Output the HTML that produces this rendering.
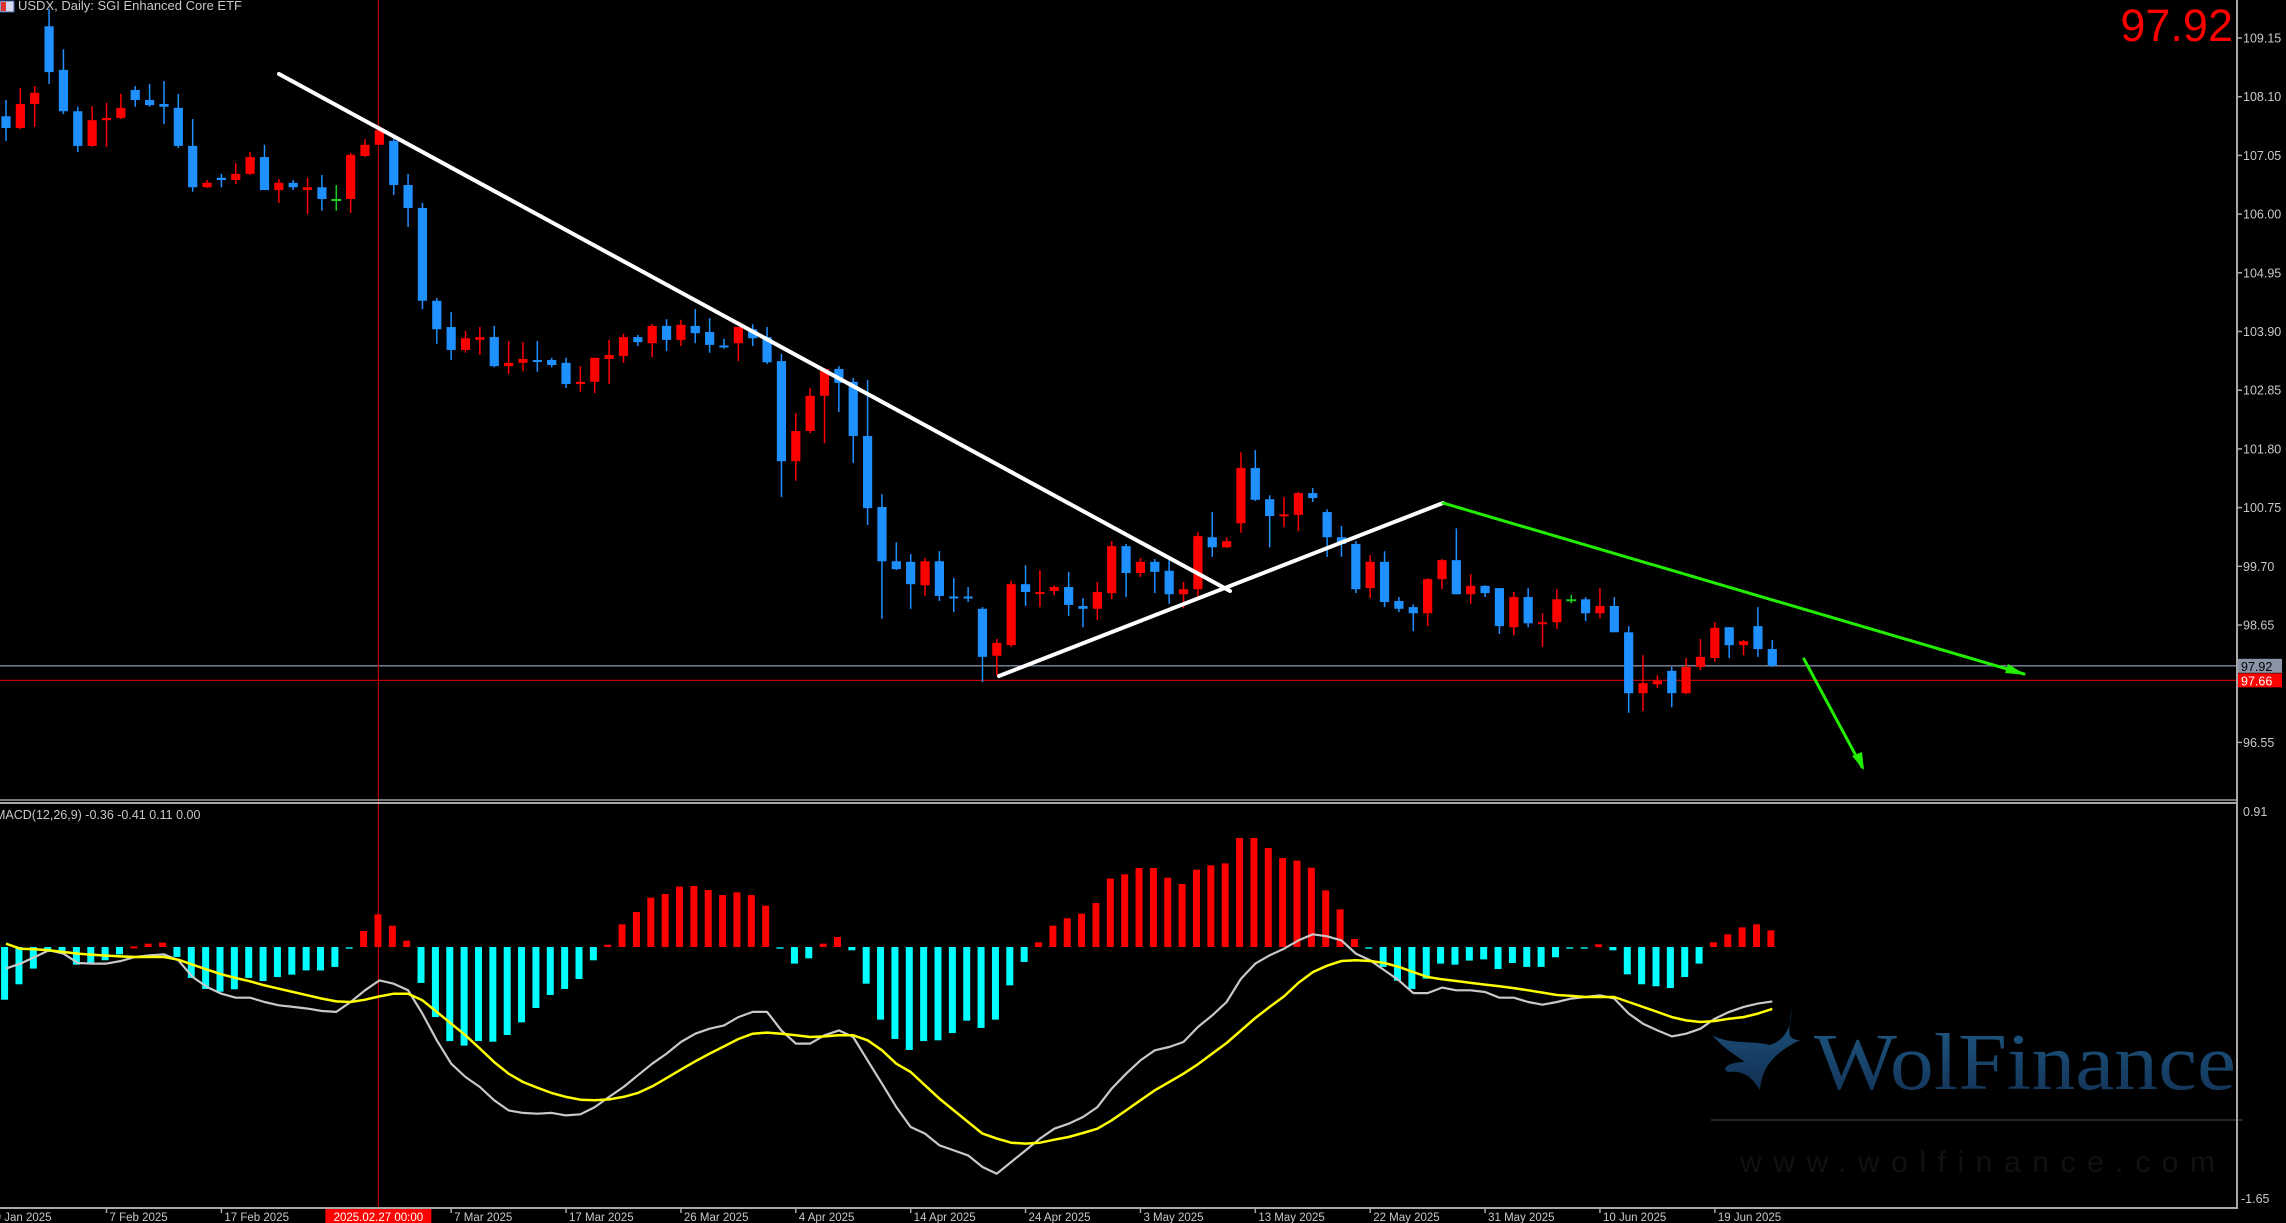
<!DOCTYPE html>
<html><head><meta charset="utf-8"><style>
html,body{margin:0;padding:0;background:#000;overflow:hidden}
svg{display:block}
text{font-family:"Liberation Sans",sans-serif}
</style></head><body>
<svg id="chart" width="2286" height="1223" viewBox="0 0 2286 1223" xmlns="http://www.w3.org/2000/svg">
<rect x="0" y="0" width="2286" height="1223" fill="#000"/>
<g id="watermark">
  <defs><linearGradient id="wg" x1="0" y1="0" x2="0" y2="1"><stop offset="0" stop-color="#1e5a84"/><stop offset="1" stop-color="#122e52"/></linearGradient></defs>
  <path d="M1790,1000 C1795,1025 1785,1040 1770,1045 C1750,1040 1730,1045 1712,1035 C1725,1050 1740,1058 1745,1062 C1730,1062 1720,1068 1728,1072 C1745,1070 1752,1078 1760,1090 C1762,1070 1770,1055 1800,1040 C1780,1040 1795,1020 1790,1000 Z" fill="url(#wg)"/>
  <text x="1814" y="1089" style="font-family:'Liberation Serif',serif" font-size="80" fill="url(#wg)" textLength="422" lengthAdjust="spacingAndGlyphs">WolFinance</text>
  <line x1="1711" y1="1120" x2="2243" y2="1120" stroke="#333" stroke-width="1.5"/>
  <text x="1740" y="1172" font-size="30" fill="#111" textLength="475" lengthAdjust="spacing">www.wolfinance.com</text>
</g>
<g id="grid"></g>
<g id="main"></g>
<g id="macd"></g>
<g id="axes"></g>
</svg>
<script>
const opens=[107.75,107.54,107.97,109.36,108.58,107.84,107.22,107.68,107.72,108.22,108.04,107.97,107.90,107.22,106.48,106.65,106.61,106.72,107.02,106.43,106.56,106.43,106.48,106.27,106.27,107.04,107.24,107.31,106.52,106.11,104.45,103.98,103.57,103.75,103.80,103.28,103.34,103.39,103.39,103.34,102.96,103.00,103.41,103.46,103.80,103.69,104.00,103.75,104.00,103.89,103.65,103.69,103.94,103.80,103.37,101.58,102.12,102.75,103.23,103.00,102.03,100.76,99.79,99.78,99.36,99.79,99.16,99.16,98.94,98.10,98.29,99.38,99.23,99.26,99.33,98.99,98.94,99.22,100.06,99.58,99.78,99.62,99.20,99.29,100.22,100.04,100.47,101.46,100.90,100.62,100.62,101.01,100.67,100.22,100.10,99.31,99.78,99.08,98.97,98.86,99.47,99.81,99.20,99.35,99.31,98.61,99.15,98.69,98.70,99.11,99.11,98.86,98.99,98.52,97.43,97.59,97.83,97.43,97.90,98.06,98.61,98.29,98.63,98.22];
const highs=[108.04,108.26,108.29,109.67,108.95,107.92,107.93,107.99,108.15,108.29,108.33,108.38,108.15,107.70,106.61,106.72,106.91,107.11,107.24,106.63,106.61,106.65,106.70,106.52,107.09,107.34,107.58,107.36,106.72,106.20,104.50,104.25,103.91,103.98,104.00,103.73,103.71,103.73,103.43,103.43,103.28,103.43,103.75,103.86,103.84,104.03,104.12,104.11,104.30,104.14,103.77,103.98,104.03,103.98,103.50,102.44,102.89,103.25,103.28,103.07,103.03,100.99,100.13,99.92,99.85,99.97,99.49,99.33,98.97,98.40,99.44,99.72,99.63,99.36,99.60,99.13,99.42,100.15,100.10,99.85,99.83,99.88,99.42,100.31,100.67,100.22,101.74,101.78,100.97,100.94,101.03,101.10,100.72,100.42,100.15,99.90,99.97,99.15,99.02,99.49,99.83,100.38,99.56,99.36,99.31,99.24,99.31,98.86,99.29,99.19,99.15,99.31,99.15,98.63,98.11,97.75,97.90,98.06,98.40,98.70,98.61,98.38,98.97,98.38];
const lows=[107.31,107.52,107.56,108.33,107.79,107.11,107.20,107.20,107.70,107.92,107.92,107.61,107.18,106.40,106.47,106.48,106.54,106.70,106.43,106.20,106.43,106.00,106.06,106.06,106.02,107.02,107.24,106.34,105.77,104.30,103.68,103.39,103.52,103.48,103.26,103.14,103.19,103.18,103.26,102.89,102.82,102.80,102.96,103.34,103.64,103.44,103.55,103.64,103.69,103.52,103.59,103.37,103.64,103.32,100.94,101.23,102.08,101.90,102.46,101.55,100.44,98.76,99.63,98.94,99.17,99.08,98.88,99.06,97.63,97.75,98.26,98.99,98.97,99.19,98.81,98.61,98.74,99.11,99.15,99.51,99.22,99.03,98.95,99.15,99.87,100.03,100.30,100.87,100.04,100.40,100.33,100.85,99.87,99.87,99.22,99.13,98.97,98.88,98.54,98.63,99.29,99.20,99.03,99.15,98.49,98.47,98.61,98.26,98.58,99.04,98.72,98.77,98.52,97.08,97.11,97.52,97.18,97.41,97.84,97.99,98.06,98.11,98.08,97.90];
const closes=[107.54,107.97,108.17,108.54,107.84,107.22,107.68,107.72,107.90,108.04,107.95,107.92,107.22,106.48,106.56,106.61,106.72,107.02,106.43,106.56,106.48,106.48,106.27,106.27,107.06,107.24,107.50,106.52,106.11,104.45,103.94,103.57,103.78,103.80,103.28,103.34,103.41,103.38,103.30,102.96,103.00,103.43,103.48,103.80,103.71,104.00,103.75,104.02,103.87,103.66,103.64,103.98,103.78,103.35,101.58,102.12,102.75,103.23,102.98,102.03,100.74,99.79,99.65,99.38,99.79,99.17,99.15,99.14,98.08,98.33,99.38,99.24,99.24,99.33,99.01,98.94,99.24,100.06,99.58,99.78,99.60,99.20,99.29,100.24,100.04,100.15,101.46,100.89,100.60,100.63,101.01,100.92,100.22,100.10,99.29,99.78,99.06,98.94,98.86,99.47,99.81,99.20,99.35,99.22,98.63,99.15,98.68,98.70,99.11,99.11,98.86,98.99,98.52,97.43,97.61,97.65,97.43,97.90,98.08,98.60,98.29,98.36,98.22,97.92];
const histValues=[-0.349,-0.247,-0.143,-0.033,-0.03,-0.117,-0.11,-0.088,-0.049,0.004,0.022,0.029,-0.066,-0.205,-0.278,-0.296,-0.28,-0.205,-0.225,-0.199,-0.183,-0.155,-0.155,-0.132,-0.007,0.106,0.216,0.141,0.042,-0.238,-0.464,-0.623,-0.653,-0.623,-0.627,-0.583,-0.499,-0.404,-0.318,-0.278,-0.212,-0.088,0.015,0.15,0.232,0.327,0.351,0.40,0.404,0.377,0.344,0.362,0.344,0.274,-0.013,-0.11,-0.075,0.022,0.066,-0.022,-0.243,-0.481,-0.609,-0.682,-0.623,-0.618,-0.57,-0.488,-0.536,-0.481,-0.254,-0.099,0.031,0.141,0.19,0.221,0.291,0.453,0.481,0.523,0.523,0.459,0.417,0.512,0.541,0.554,0.722,0.722,0.656,0.589,0.572,0.525,0.375,0.249,0.053,-0.007,-0.132,-0.223,-0.278,-0.21,-0.11,-0.117,-0.09,-0.082,-0.146,-0.106,-0.132,-0.132,-0.068,-0.013,-0.007,0.018,-0.022,-0.181,-0.247,-0.26,-0.272,-0.199,-0.11,0.031,0.084,0.13,0.15,0.11];
const macdValues=[-0.143,-0.11,-0.066,-0.022,-0.044,-0.106,-0.11,-0.11,-0.093,-0.066,-0.055,-0.049,-0.088,-0.199,-0.265,-0.309,-0.336,-0.336,-0.364,-0.386,-0.397,-0.408,-0.424,-0.43,-0.364,-0.287,-0.221,-0.243,-0.287,-0.441,-0.618,-0.773,-0.861,-0.927,-1.015,-1.082,-1.099,-1.104,-1.099,-1.115,-1.108,-1.06,-0.993,-0.927,-0.85,-0.773,-0.706,-0.629,-0.574,-0.541,-0.519,-0.464,-0.43,-0.43,-0.552,-0.64,-0.64,-0.585,-0.552,-0.596,-0.751,-0.905,-1.06,-1.192,-1.236,-1.313,-1.347,-1.38,-1.457,-1.501,-1.424,-1.347,-1.269,-1.203,-1.17,-1.126,-1.06,-0.938,-0.839,-0.751,-0.684,-0.662,-0.629,-0.53,-0.453,-0.364,-0.21,-0.11,-0.055,-0.011,0.044,0.084,0.071,0.044,-0.044,-0.088,-0.155,-0.221,-0.305,-0.305,-0.269,-0.287,-0.287,-0.298,-0.336,-0.336,-0.364,-0.382,-0.364,-0.342,-0.331,-0.32,-0.342,-0.441,-0.508,-0.552,-0.592,-0.574,-0.541,-0.475,-0.43,-0.397,-0.375,-0.36];
const signalValues=[0.022,-0.011,-0.015,-0.022,-0.033,-0.044,-0.051,-0.057,-0.062,-0.066,-0.066,-0.066,-0.084,-0.117,-0.15,-0.181,-0.205,-0.227,-0.254,-0.276,-0.298,-0.32,-0.342,-0.36,-0.364,-0.349,-0.327,-0.309,-0.309,-0.353,-0.43,-0.508,-0.585,-0.673,-0.762,-0.839,-0.894,-0.932,-0.967,-0.993,-1.011,-1.015,-1.009,-0.993,-0.967,-0.923,-0.868,-0.812,-0.757,-0.706,-0.658,-0.609,-0.574,-0.567,-0.574,-0.585,-0.596,-0.592,-0.585,-0.585,-0.618,-0.684,-0.773,-0.828,-0.916,-1.004,-1.082,-1.159,-1.236,-1.269,-1.296,-1.302,-1.296,-1.276,-1.258,-1.232,-1.203,-1.148,-1.082,-1.015,-0.949,-0.894,-0.839,-0.777,-0.706,-0.636,-0.552,-0.47,-0.397,-0.327,-0.238,-0.166,-0.124,-0.093,-0.088,-0.093,-0.106,-0.132,-0.166,-0.199,-0.214,-0.225,-0.238,-0.249,-0.26,-0.272,-0.287,-0.302,-0.318,-0.324,-0.331,-0.331,-0.331,-0.364,-0.397,-0.43,-0.464,-0.486,-0.497,-0.49,-0.475,-0.464,-0.441,-0.41];
const priceTicks=["109.15","108.10","107.05","106.00","104.95","103.90","102.85","101.80","100.75","99.70","98.65","96.55"];
const dateLabels=["9 Jan 2025","7 Feb 2025","17 Feb 2025","7 Mar 2025","17 Mar 2025","26 Mar 2025","4 Apr 2025","14 Apr 2025","24 Apr 2025","3 May 2025","13 May 2025","22 May 2025","31 May 2025","10 Jun 2025","19 Jun 2025"];
const dateBars=[-1,7,15,31,39,47,55,63,71,79,87,95,103,111,119];
const bidPrice=97.92, markPrice=97.66, crossBar=26;

const NS="http://www.w3.org/2000/svg";
const xOf=i=>6+i*14.36;
const yP=p=>38+(109.15-p)*55.905;
const yM=v=>947-v*151;
function mk(parent,tag,attrs,txt){const e=document.createElementNS(NS,tag);for(const k in attrs)e.setAttribute(k,attrs[k]);if(txt!==undefined)e.textContent=txt;document.getElementById(parent).appendChild(e);return e;}

let e;
e=mk('grid','line',{x1:0,x2:2237,y1:yP(bidPrice),y2:yP(bidPrice),stroke:'#7f8aa0','stroke-width':1.3});


e=mk('grid','line',{x1:0,x2:2237,y1:yP(markPrice),y2:yP(markPrice),stroke:'#c00000','stroke-width':1.3});


e=mk('grid','line',{x1:xOf(crossBar)-1,x2:xOf(crossBar)-1,y1:0,y2:1208,stroke:'#b00000','stroke-width':1.3});



for(let i=0;i<opens.length;i++){
  const o=opens[i],c=closes[i],h=highs[i],l=lows[i];
  const col=c>o?'#ff0000':(c<o?'#1e90ff':'#1ecc1e');
  const x=xOf(i);
  const g=mk('main','g',{});
  
  
  const w=document.createElementNS(NS,'line');
  w.setAttribute('x1',x);w.setAttribute('x2',x);w.setAttribute('y1',yP(h));w.setAttribute('y2',yP(l));w.setAttribute('stroke',col);w.setAttribute('stroke-width',1.5);
  
  
  g.appendChild(w);
  const top=Math.min(yP(o),yP(c)),bh=Math.max(Math.abs(yP(o)-yP(c)),2);
  const b=document.createElementNS(NS,'rect');
  if(c===o){b.setAttribute('x',x-5);b.setAttribute('width',10);}else{b.setAttribute('x',x-4.6);b.setAttribute('width',9.2);}
  b.setAttribute('y',top);b.setAttribute('height',bh);b.setAttribute('fill',col);
  
  
  g.appendChild(b);
}

function ln(x1,y1,x2,y2,col,w,name){const l=mk('main','line',{x1,y1,x2,y2,stroke:col,'stroke-width':w,'stroke-linecap':'round'});return l;}
ln(279,74,1230,591,'#ffffff',4,'descending-trendline');
ln(999,676,1443,503,'#ffffff',4,'ascending-trendline');
ln(1443,503,2024,674,'#22ee00',3,'green-projection-line');
ln(1804,659,1862,767,'#22ee00',3,'green-down-arrow');
e=mk('main','polygon',{points:'2026,675 2008,664 2005,673',fill:'#22ee00'});


e=mk('main','polygon',{points:'1864,770 1852,756 1862,752',fill:'#22ee00'});



e=mk('main','rect',{x:0,y:1,width:14,height:11,fill:'#d8d8f0',stroke:'#4060a0','stroke-width':1});


e=mk('main','rect',{x:1,y:2,width:5,height:9,fill:'#e03030'});


e=mk('main','text',{x:18,y:10,'font-size':13,fill:'#c8c8c8'},'USDX, Daily:  SGI Enhanced Core ETF');


e=mk('main','text',{x:2233,y:41,'font-size':45,fill:'#ff0000','text-anchor':'end'},'97.92');



e=mk('macd','line',{x1:0,x2:2237,y1:800,y2:800,stroke:'#a0a0a0','stroke-width':1.5});


e=mk('macd','line',{x1:0,x2:2237,y1:803,y2:803,stroke:'#e0e0e0','stroke-width':1.5});


e=mk('macd','text',{x:-5,y:819,'font-size':12.5,fill:'#c8c8c8'},'MACD(12,26,9) -0.36 -0.41 0.11 0.00');


for(let i=0;i<histValues.length;i++){
  const v=histValues[i],y0=yM(0),y1=yM(v);
  const col=v>0?'#ff0000':(v>-0.015?'#00b0b0':'#00ffff');
  const r=mk('macd','rect',{x:xOf(i)-4.9,y:Math.min(y0,y1),width:7,height:Math.max(Math.abs(y1-y0),2),fill:col});
  
  
}
const mPts=macdValues.map((v,i)=>xOf(i).toFixed(1)+','+yM(v).toFixed(1)).join(' ');
e=mk('macd','polyline',{points:mPts,fill:'none',stroke:'#c8c8c8','stroke-width':2.2,'stroke-linejoin':'round'});


const sPts=signalValues.map((v,i)=>xOf(i).toFixed(1)+','+yM(v).toFixed(1)).join(' ');
e=mk('macd','polyline',{points:sPts,fill:'none',stroke:'#ffff00','stroke-width':2.5,'stroke-linejoin':'round'});



e=mk('axes','line',{x1:2237,x2:2237,y1:0,y2:1208,stroke:'#a8a8a8','stroke-width':2});


e=mk('axes','line',{x1:0,x2:2238,y1:1208,y2:1208,stroke:'#a8a8a8','stroke-width':2});


priceTicks.forEach(t=>{
  const y=yP(parseFloat(t));
  const tk=mk('axes','line',{x1:2237,x2:2242,y1:y,y2:y,stroke:'#a8a8a8','stroke-width':1.5});
  
  
  const tx=mk('axes','text',{x:2243,y:y+4.5,'font-size':12.5,fill:'#c8c8c8'},t);
  
  
});
[[bidPrice,'#8a94a6','#000'],[markPrice,'#ff0000','#ffffff']].forEach(([p,bg,fg])=>{
  const y=yP(p);
  const r=mk('axes','rect',{x:2238,y:y-7,width:44,height:14,fill:bg});
  
  
  const t=mk('axes','text',{x:2241,y:y+5,'font-size':12.5,fill:fg},p.toFixed(2));
  
  
});
e=mk('axes','text',{x:2243,y:816,'font-size':12.5,fill:'#c8c8c8'},'0.91');


e=mk('axes','text',{x:2241,y:1203,'font-size':12.5,fill:'#c8c8c8'},'-1.65');


dateLabels.forEach((d,k)=>{
  const x=xOf(dateBars[k]);
  const tk=mk('axes','line',{x1:x,x2:x,y1:1208,y2:1213,stroke:'#a8a8a8','stroke-width':1.5});
  
  
  const t=mk('axes','text',{x:x+3,y:1221,'font-size':11.5,fill:'#c8c8c8'},d);
  
  
});
const cx=xOf(crossBar)-1;
e=mk('axes','rect',{x:cx-53,y:1209,width:106,height:14,fill:'#ff0000'});


e=mk('axes','text',{x:cx,y:1221,'font-size':11.5,fill:'#ffffff','text-anchor':'middle'},'2025.02.27 00:00');


</script>
</body></html>
